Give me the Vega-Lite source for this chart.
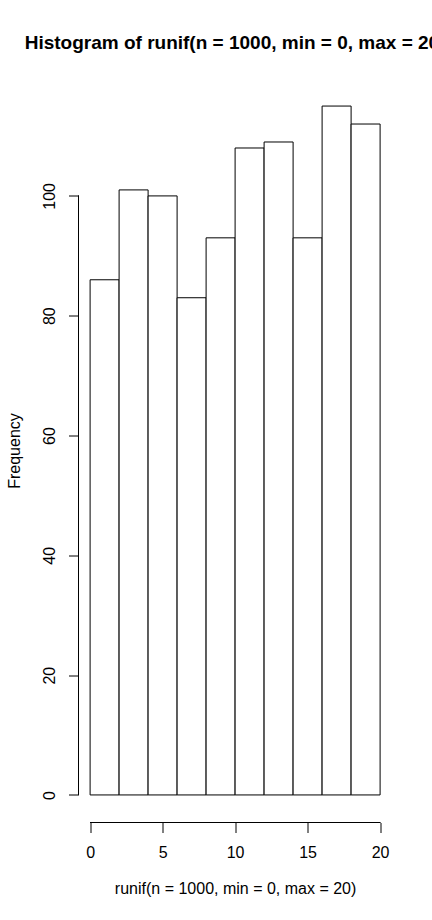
{
  "$schema": "https://vega.github.io/schema/vega-lite/v6.json",
  "width": 313.2,
  "height": 744,
  "autosize": "none",
  "padding": {"left": 78.5, "top": 78.5, "right": 40.3, "bottom": 97.5},
  "background": "white",
  "config": {
    "font": "Liberation Sans",
    "view": {"stroke": null},
    "axis": {"grid": false, "domain": false, "tickColor": "black", "tickSize": 10, "tickWidth": 1, "labelColor": "black", "labelFont": "Liberation Sans", "labelFontSize": 16, "titleFont": "Liberation Sans", "titleFontSize": 16, "titleFontWeight": "normal", "titleColor": "black"}
  },
  "title": {"text": "Histogram of runif(n = 1000, min = 0, max = 20)", "font": "Liberation Sans", "fontSize": 19, "fontWeight": "bold", "color": "black", "anchor": "middle", "frame": "group", "baseline": "alphabetic", "offset": 11},
  "data": {"values": [
    {"bin_start": 0, "bin_end": 2, "count": 86},
    {"bin_start": 2, "bin_end": 4, "count": 101},
    {"bin_start": 4, "bin_end": 6, "count": 100},
    {"bin_start": 6, "bin_end": 8, "count": 83},
    {"bin_start": 8, "bin_end": 10, "count": 93},
    {"bin_start": 10, "bin_end": 12, "count": 108},
    {"bin_start": 12, "bin_end": 14, "count": 109},
    {"bin_start": 14, "bin_end": 16, "count": 93},
    {"bin_start": 16, "bin_end": 18, "count": 115},
    {"bin_start": 18, "bin_end": 20, "count": 112}
  ]},
  "layer": [
    {
      "mark": {"type": "rect", "fill": "white", "stroke": "black", "strokeWidth": 1},
      "encoding": {
        "x": {"field": "bin_start", "type": "quantitative",
              "scale": {"domain": [-0.8, 20.8], "nice": false, "zero": false},
              "axis": {"values": [0, 5, 10, 15, 20], "labelBaseline": "alphabetic", "labelPadding": 25.3, "labelAlign": "center", "title": "runif(n = 1000, min = 0, max = 20)", "titleBaseline": "alphabetic", "titlePadding": 33}},
        "x2": {"field": "bin_end"},
        "y": {"field": "count", "type": "quantitative",
              "scale": {"domain": [-4.6, 119.6], "nice": false, "zero": false},
              "axis": {"values": [0, 20, 40, 60, 80, 100], "labelAngle": 270, "labelAlign": "center", "labelBaseline": "alphabetic", "labelPadding": 14, "title": "Frequency", "titleBaseline": "alphabetic", "titlePadding": 22}},
        "y2": {"datum": 0}
      }
    },
    {
      "mark": {"type": "rule", "color": "black", "strokeWidth": 1},
      "encoding": {"x": {"datum": 0}, "x2": {"datum": 20}, "y": {"datum": -4.6}}
    },
    {
      "mark": {"type": "rule", "color": "black", "strokeWidth": 1},
      "encoding": {"x": {"datum": -0.8}, "y": {"datum": 0}, "y2": {"datum": 100}}
    }
  ]
}
